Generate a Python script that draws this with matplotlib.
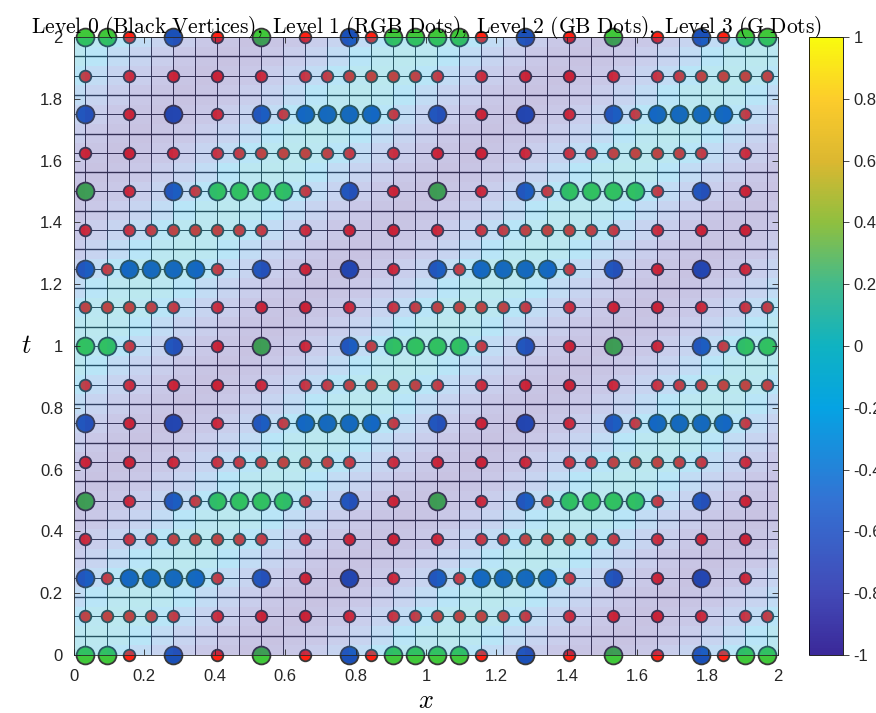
import matplotlib
matplotlib.use("Agg")
import matplotlib.pyplot as plt
import numpy as np
from matplotlib.colors import LinearSegmentedColormap, Normalize
from matplotlib.cm import ScalarMappable

plt.rcParams['mathtext.fontset'] = 'cm'
plt.rcParams['font.family'] = ['Liberation Sans', 'DejaVu Sans']

# field value over one period of the travelling wave (16 cells of 1/16),
# starting at the crest
wave_profile = [-0.04, -0.08, -0.20, -0.40, -0.58, -0.74, -0.88, -0.96,
                -1.00, -0.96, -0.88, -0.74, -0.58, -0.40, -0.20, -0.08]

# dots on the time levels t = k/8, one character per x cell centre (2j+1)/32
dot_rows = [
    "GGR.B.R.G.R.BRGGGGR.B.R.G.R.BRGG",  # t = 0
    "RRRRR.R.R.R.R.RRRRRRR.R.R.R.R.RR",
    "BRBBBBR.B.R.B.R.BRBBBBR.B.R.B.R.",
    "R.RRRRRRR.R.R.R.R.RRRRRRR.R.R.R.",
    "G.R.BRGGGGR.B.R.G.R.BRGGGGR.B.R.",  # t = 0.5
    "R.R.R.RRRRRRR.R.R.R.R.RRRRRRR.R.",
    "B.R.B.R.BRBBBBR.B.R.B.R.BRBBBBR.",
    "R.R.R.R.R.RRRRRRR.R.R.R.R.RRRRRR",
    "GGR.B.R.G.R.BRGGGGR.B.R.G.R.BRGG",  # t = 1
    "RRRRR.R.R.R.R.RRRRRRR.R.R.R.R.RR",
    "BRBBBBR.B.R.B.R.BRBBBBR.B.R.B.R.",
    "R.RRRRRRR.R.R.R.R.RRRRRRR.R.R.R.",
    "G.R.BRGGGGR.B.R.G.R.BRGGGGR.B.R.",  # t = 1.5
    "R.R.R.RRRRRRR.R.R.R.R.RRRRRRR.R.",
    "B.R.B.R.BRBBBBR.B.R.B.R.BRBBBBR.",
    "R.R.R.R.R.RRRRRRR.R.R.R.R.RRRRRR",
    "GGR.B.R.G.R.BRGGGGR.B.R.G.R.BRGG",  # t = 2
]

dot_colors = {"R": "#ff2012", "G": "#40c83a", "B": "#1a50b8"}
dot_sizes = {"R": 70, "G": 165, "B": 165}

# parula-like colour map
parula = LinearSegmentedColormap.from_list("parula", [
    (0.00, (0.230, 0.160, 0.600)),
    (0.10, (0.260, 0.290, 0.720)),
    (0.25, (0.200, 0.450, 0.830)),
    (0.40, (0.020, 0.640, 0.890)),
    (0.50, (0.060, 0.700, 0.760)),
    (0.60, (0.260, 0.730, 0.550)),
    (0.70, (0.560, 0.750, 0.250)),
    (0.80, (0.860, 0.720, 0.190)),
    (0.90, (0.990, 0.800, 0.170)),
    (1.00, (0.976, 0.983, 0.054)),
])

nx = 32
n_t = len(dot_rows)
x_dots = (2 * np.arange(nx) + 1) / 32
t_rows = np.arange(n_t) / 8

# field cells centred on multiples of 1/16
centres = np.arange(33) / 16
edges = np.concatenate([[0], (centres[:-1] + centres[1:]) / 2, [2]])
prof = np.array(wave_profile)
field = np.array([[prof[(c - m) % 16] for c in range(33)] for m in range(33)])

fig = plt.figure(figsize=(8.76, 7.13), dpi=100)
ax = fig.add_axes([74 / 876, 58 / 713, 704 / 876, 618 / 713])

# level 0 mesh lines
line_col = "#303038"
ax.vlines(x_dots, 0, 2, color=line_col, lw=0.7, zorder=0.5)
ax.hlines(t_rows, 0, 2, color=line_col, lw=0.7, zorder=0.5)
ax.hlines((2 * np.arange(16) + 1) / 16, 0, 2, color=line_col, lw=1.0, zorder=0.5)

for k, row in enumerate(dot_rows):
    for kind in "RBG":
        cols = [j for j, ch in enumerate(row) if ch == kind]
        if not cols:
            continue
        ax.scatter(x_dots[cols], np.full(len(cols), t_rows[k]),
                   s=dot_sizes[kind], c=dot_colors[kind],
                   edgecolors="#383838", linewidths=1.3, zorder=1, clip_on=False)

# translucent field over the mesh and dots
norm = Normalize(-1, 1)
ax.pcolormesh(edges, edges, field, cmap=parula, norm=norm, alpha=0.28,
              shading="flat", antialiased=False, linewidth=0, zorder=1.5)

ax.set_xlim(0, 2)
ax.set_ylim(0, 2)
ticks = np.arange(0, 2.01, 0.2)
tick_labels = ["0", "0.2", "0.4", "0.6", "0.8", "1", "1.2", "1.4", "1.6", "1.8", "2"]
ax.set_xticks(ticks)
ax.set_yticks(ticks)
ax.set_xticklabels(tick_labels)
ax.set_yticklabels(tick_labels)
ax.tick_params(direction="in", length=4, width=0.6, top=True, right=True,
               labelsize=12, colors="#262626")
ax.tick_params(axis="x", pad=10)
ax.tick_params(axis="y", pad=8)
for sp in ax.spines.values():
    sp.set_color("#262626")
    sp.set_linewidth(0.6)

ax.set_xlabel(r"$x$", fontsize=19, labelpad=4)
ax.set_ylabel(r"$t$", fontsize=19, rotation=0, labelpad=10, va="center")
ax.set_title(r"$\mathrm{Level\ 0\ (Black\ Vertices),\ Level\ 1\ (RGB\ Dots),\ "
             r"Level\ 2\ (GB\ Dots),\ Level\ 3\ (G\ Dots)}$",
             fontsize=15.5, pad=3)

cax = fig.add_axes([809 / 876, 58 / 713, 34 / 876, 618 / 713])
cb = fig.colorbar(ScalarMappable(norm=norm, cmap=parula), cax=cax)
cb.set_ticks(np.arange(-1, 1.01, 0.2))
cb.set_ticklabels(["-1", "-0.8", "-0.6", "-0.4", "-0.2", "0", "0.2", "0.4", "0.6", "0.8", "1"])
cb.ax.tick_params(labelsize=12, colors="#262626", length=4, width=0.6)
cb.outline.set_linewidth(0.6)

fig.savefig("out.png", dpi=100)
